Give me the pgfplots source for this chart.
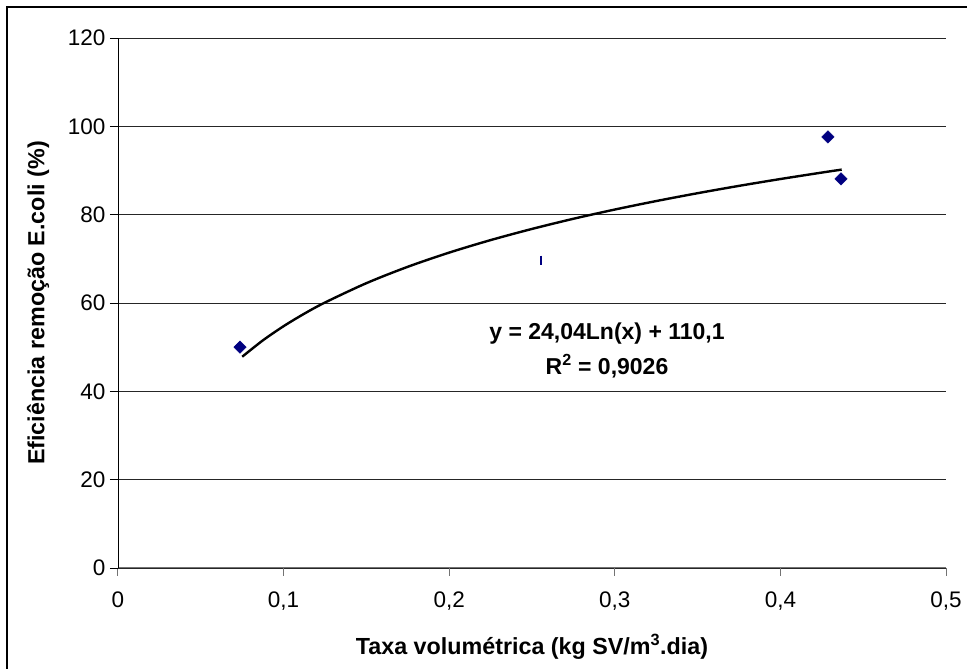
\documentclass[border=0pt]{standalone}
\usepackage{fontspec}
\setmainfont{Liberation Sans}
\usepackage{pgfplots}
\pgfplotsset{compat=1.18}
\definecolor{navyblue}{RGB}{0,0,128}
\begin{document}
\begin{tikzpicture}[x=1pt,y=1pt]
\useasboundingbox (0,0) rectangle (967,669);
\draw[line width=1.2pt] (7,-5) -- (7,662) -- (975,662);
\begin{axis}[
  at={(118pt,101pt)}, anchor=south west,
  scale only axis, width=828pt, height=530pt,
  xmin=0, xmax=0.5, ymin=0, ymax=120,
  axis x line*=bottom, axis y line*=left,
  x axis line style={-, draw=black!55, line width=1pt},
  y axis line style={-, draw=black, line width=0.9pt},
  xtick={0,0.1,0.2,0.3,0.4,0.5},
  xticklabels={0,{0,1},{0,2},{0,3},{0,4},{0,5}},
  ytick={0,20,40,60,80,100,120},
  ymajorgrids, grid style={black!85, line width=0.8pt},
  tick align=outside, major tick length=8pt,
  x tick style={draw=black!55, line width=1pt},
  y tick style={draw=black, line width=0.9pt},
  /pgf/number format/assume math mode=true,
  ticklabel style={font=\fontsize{22.5}{27}\selectfont},
  xticklabel style={yshift=-12pt},
  yticklabel style={xshift=-1pt},
  label style={font=\fontsize{23.3}{27}\selectfont\bfseries},
  xlabel={Taxa volumétrica (kg SV/m\textsuperscript{3}.dia)},
  ylabel={Eficiência remoção E.coli (\%)},
  xlabel style={at={(axis description cs:0.5,0)}, anchor=center, yshift=-79pt},
  ylabel style={at={(axis description cs:0,0.5)}, anchor=center, yshift=80pt},
  clip=false,
]
\addplot[black, line width=2.4pt, smooth, no marks] coordinates {
(0.075,47.83) (0.0875,51.54) (0.1,54.75) (0.1125,57.58) (0.125,60.11)
(0.15,64.49) (0.175,68.20) (0.2,71.41) (0.225,74.24) (0.25,76.77)
(0.275,79.07) (0.3,81.16) (0.325,83.08) (0.35,84.86) (0.375,86.52)
(0.4,88.07) (0.425,89.53) (0.437,90.20)
};
\addplot[only marks, mark=square*, mark size=4.4pt, mark options={rotate=45, fill=navyblue, draw=navyblue}] coordinates {
(0.0737,50.0) (0.4287,97.6) (0.4366,88.1)
};
\addplot[only marks, mark=|, mark size=4.5pt, mark options={draw=navyblue, line width=1.6pt}] coordinates {
(0.2554,69.7)
};
\node[align=center, font=\fontsize{23}{35}\selectfont\bfseries] at (axis cs:0.2953,49.2)
  {y = 24,04Ln(x) + 110,1\\R\textsuperscript{2} = 0,9026};
\end{axis}
\end{tikzpicture}
\end{document}
